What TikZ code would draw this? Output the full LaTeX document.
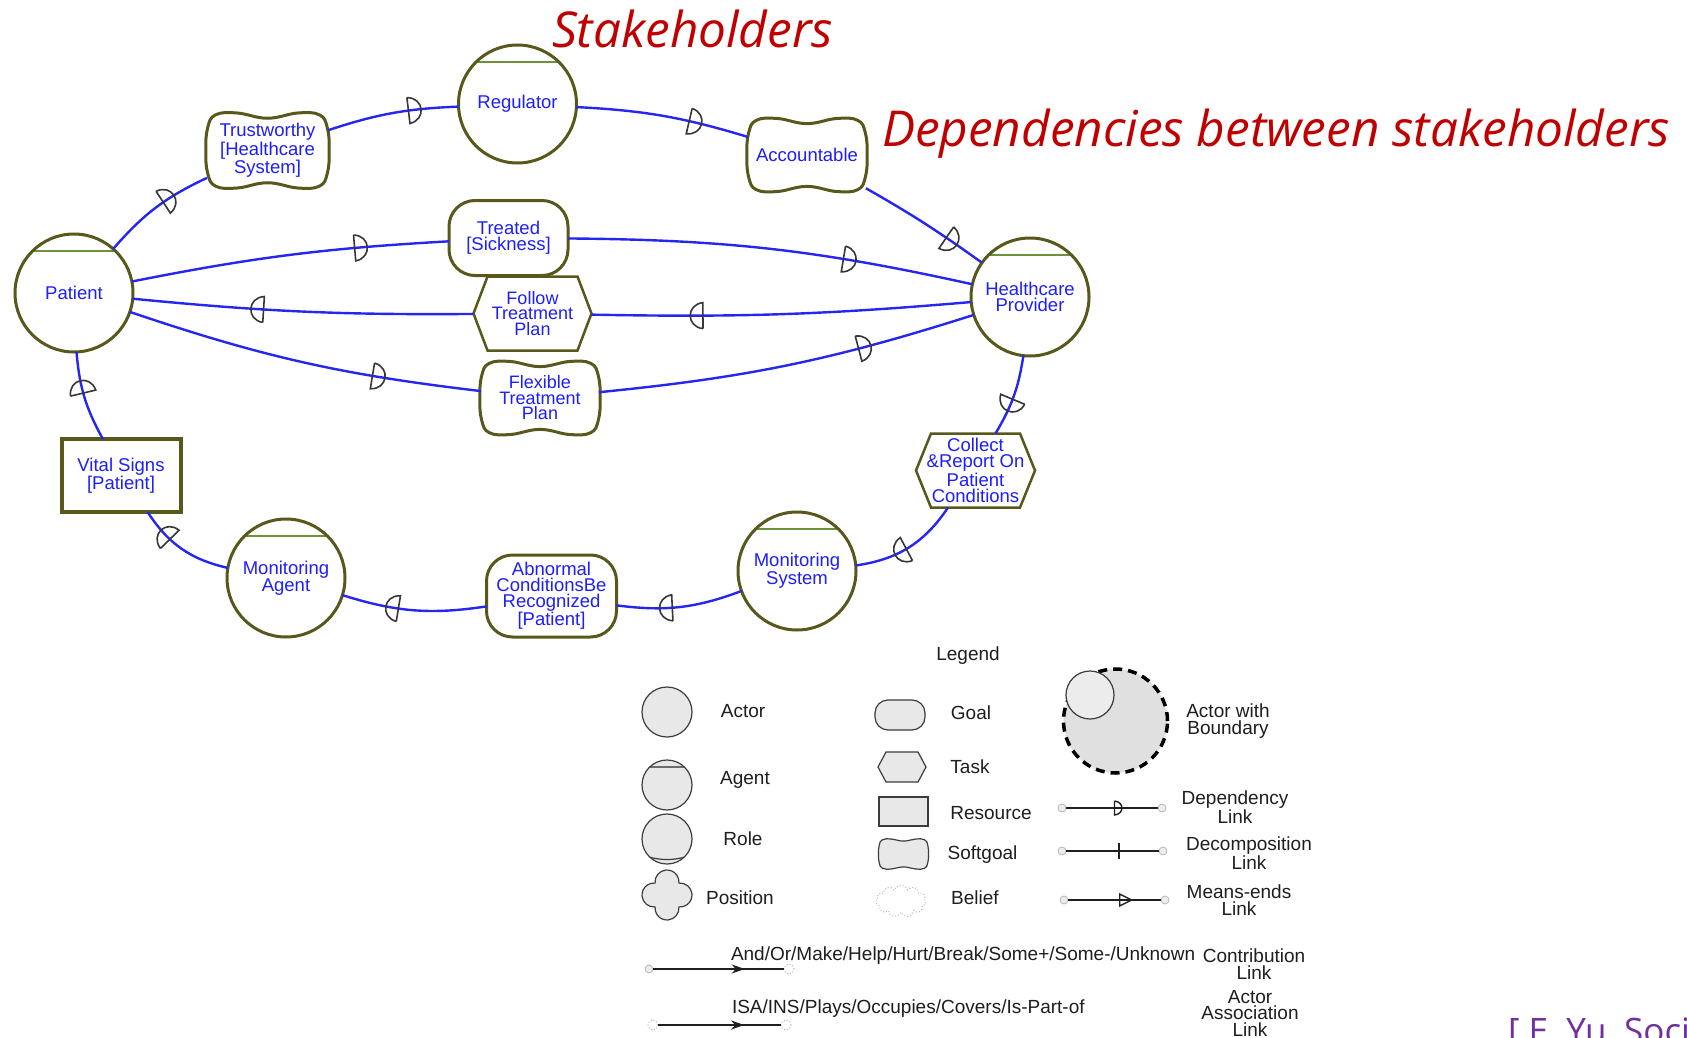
\documentclass[tikz,border=0pt]{standalone}
\usepackage{fontspec}
\setmainfont{Liberation Sans}
\newfontfamily\titlefont{Open Sans}
\usetikzlibrary{decorations.markings, shapes.symbols, arrows.meta}

\definecolor{olivebd}{RGB}{88,88,28}
\definecolor{agentgreen}{RGB}{112,145,60}
\definecolor{linkblue}{RGB}{38,38,240}
\definecolor{textblue}{RGB}{30,30,250}
\definecolor{markgray}{RGB}{55,55,55}
\definecolor{titlered}{RGB}{192,0,0}
\definecolor{citepurple}{RGB}{112,48,160}
\definecolor{legfill}{RGB}{232,232,232}
\definecolor{bndfill}{RGB}{224,224,224}
\definecolor{legline}{RGB}{60,60,60}
\definecolor{legtext}{RGB}{30,30,30}
\definecolor{capgray}{RGB}{185,185,185}
\definecolor{capfill}{RGB}{236,236,236}
\definecolor{beliefgray}{RGB}{190,190,190}

\pgfdeclarelayer{background}
\pgfsetlayers{background,main}

% wavy softgoal outline around a node: #2 node, #3/#4 half width/height
\newcommand\sgoutline[4][sgline]{%
  \draw[#1, shift={(#2.center)}, xscale=#3, yscale=#4]
    plot[smooth cycle, tension=0.7] coordinates {
      (-0.86,0.95) (-0.5,1.0) (0,0.86) (0.5,1.0) (0.86,0.95) (0.99,0.6)
      (1.02,0) (0.99,-0.6) (0.86,-0.95) (0.5,-1.0) (0,-0.86) (-0.5,-1.0)
      (-0.86,-0.95) (-0.99,-0.6) (-1.02,0) (-0.99,0.6)};}
% hexagonal task outline around a node: #3 corner inset
\newcommand\taskoutline[3][taskline]{%
  \draw[#1] (#2.west) -- ([xshift=#3]#2.north west) -- ([xshift=-#3]#2.north east)
    -- (#2.east) -- ([xshift=-#3]#2.south east) -- ([xshift=#3]#2.south west) -- cycle;}

\tikzset{
  every node/.style={inner sep=0pt, outer sep=0pt},
  lbl/.style={text=textblue, font=\fontsize{18.5}{16}\selectfont, align=center},
  actor/.style={lbl, circle, draw=olivebd, line width=3pt, fill=white, minimum size=118pt},
  agent/.style={actor, path picture={\draw[agentgreen, line width=2pt]
      ([yshift=-17pt]path picture bounding box.north west) --
      ([yshift=-17pt]path picture bounding box.north east);}},
  goal/.style={lbl, rectangle, rounded corners=26pt, draw=olivebd, line width=3pt, fill=white},
  softgoal/.style={lbl, rectangle},
  task/.style={lbl, rectangle},
  resource/.style={lbl, rectangle, draw=olivebd, line width=4pt, fill=white},
  sgline/.style={draw=olivebd, line width=3pt, fill=white},
  taskline/.style={draw=olivebd, line width=2.5pt, fill=white},
  dmark/.style={draw=markgray, line width=1.6pt, fill=none},
  dep/.style={draw=linkblue, line width=2.4pt,
    postaction={decorate, decoration={markings, mark=at position #1 with
      {\draw[dmark] (-5,-13) -- (-5,13) .. controls (12,11) and (12,-11) .. (-5,-13);}}}},
  dep/.default=0.65,
  legtxt/.style={text=legtext, font=\fontsize{19}{16.5}\selectfont, align=center},
  legshape/.style={draw=legline, line width=1.2pt, fill=legfill},
  leglink/.style={draw=black!88, line width=2.2pt},
  endcap/.style={circle, draw=capgray, fill=capfill, line width=0.8pt, minimum size=8pt},
  dotcap/.style={circle, draw=capgray, dotted, line width=1pt, minimum size=10pt},
  titletxt/.style={text=titlered, font=\titlefont\itshape\fontsize{49.5}{52}\selectfont, anchor=base west}
}

\begin{document}
\begin{tikzpicture}[x=1pt, y=-1pt]
\useasboundingbox (0,0) rectangle (1687,1038);
\clip (0,0) rectangle (1687,1038);

% headings
\node[titletxt] (head1) at (552,48) {Stakeholders};
\node[titletxt] (head2) at (882,147) {Dependencies between stakeholders};
\node[anchor=base west, text=citepurple, font=\titlefont\fontsize{35}{38}\selectfont] (cite) at (1508,1043) {[ E. Yu, Social};

% actors
\node[agent] (patient) at (74,293) {Patient};
\node[agent] (reg) at (517.5,104) {Regulator};
\node[agent] (hp) at (1030,297) {Healthcare\\Provider};
\node[agent] (ma) at (286,578) {Monitoring\\Agent};
\node[agent] (ms) at (797,571) {Monitoring\\System};

% dependums
\node[softgoal, minimum width=121pt, minimum height=75pt, font=\fontsize{18.5}{18.5}\selectfont] (trust) at (267.5,150.5) {Trustworthy\\{}[Healthcare\\System]};
\node[softgoal, minimum width=118pt, minimum height=73pt] (acc) at (807,155) {Accountable};
\node[goal, minimum width=119pt, minimum height=75pt] (treated) at (508.5,238) {Treated\\{}[Sickness]};
\node[task, minimum width=118pt, minimum height=74pt, font=\fontsize{18}{15.5}\selectfont] (follow) at (532.5,313.5) {Follow\\Treatment\\Plan};
\node[softgoal, minimum width=118pt, minimum height=73pt, font=\fontsize{18}{15.5}\selectfont] (flex) at (540,398) {Flexible\\Treatment\\Plan};
\node[resource, minimum width=119pt, minimum height=73pt, font=\fontsize{18.5}{18}\selectfont] (vital) at (121,475.5) {Vital Signs\\{}[Patient]};
\node[goal, minimum width=130pt, minimum height=82pt] (abn) at (551.5,596) {Abnormal\\ConditionsBe\\Recognized\\{}[Patient]};
\node[task, minimum width=119pt, minimum height=74pt] (collect) at (975.5,470.5) {Collect\\\&Report On\\Patient\\Conditions};

% legend
\node[legtxt] (lgtitle) at (968,656) {Legend};
\node[legshape, circle, minimum size=50pt] (lgactor) at (667,712) {};
\node[legtxt] (lgactortxt) at (743,711) {Actor};
\node[legshape, circle, minimum size=50pt, path picture={\draw[legline!75, line width=2pt]
    ([yshift=-7pt]path picture bounding box.north west) --
    ([yshift=-7pt]path picture bounding box.north east);}] (lgagent) at (667,785) {};
\node[legtxt] (lgagenttxt) at (745,780) {Agent};
\node[legshape, circle, minimum size=50pt, path picture={\draw[legline, line width=1.2pt]
    ([yshift=9pt]path picture bounding box.south west) to[bend right=18]
    ([yshift=9pt]path picture bounding box.south east);}] (lgrole) at (667,839) {};
\node[legtxt] (lgroletxt) at (743,839) {Role};
\coordinate (lgpos) at (667,895);
\draw[legshape, shift={(lgpos)}] (11.95,11.95) arc[start angle=-5, end angle=185, radius=12]
  arc[start angle=85, end angle=275, radius=12] arc[start angle=175, end angle=365, radius=12]
  arc[start angle=265, end angle=455, radius=12] -- cycle;
\node[legtxt] (lgpostxt) at (740,898) {Position};

\node[legshape, rectangle, rounded corners=13pt, minimum width=50pt, minimum height=30pt] (lggoal) at (900,715) {};
\node[legtxt] (lggoaltxt) at (971,713) {Goal};
\node[rectangle, minimum width=48pt, minimum height=30pt] (lgtask) at (902,767) {};
\node[legtxt] (lgtasktxt) at (970,767) {Task};
\node[legshape, rectangle, minimum width=49pt, minimum height=29pt] (lgres) at (903.5,811.5) {};
\node[legtxt] (lgrestxt) at (991,813) {Resource};
\node[rectangle, minimum width=49pt, minimum height=30pt] (lgsoft) at (903.5,854) {};
\node[legtxt] (lgsofttxt) at (982.5,855) {Softgoal};
\node[cloud, cloud puffs=11, aspect=1.6, draw=beliefgray, dotted, line width=1pt, minimum width=50pt, minimum height=32pt] (lgbelief) at (901,901) {};
\node[legtxt] (lgbelieftxt) at (975,898) {Belief};

\node[circle, draw=black, line width=3.5pt, dash pattern=on 9pt off 6pt, fill=bndfill, minimum size=104pt] (lgbound) at (1115.5,721) {};
\node[circle, draw=legline, line width=1.2pt, fill=capfill, minimum size=48pt] (lgbactor) at (1090,695) {};
\node[legtxt] (lgboundtxt) at (1228,721) {Actor with\\Boundary};

\node[endcap] (dl1) at (1062,808) {};
\node[endcap] (dl2) at (1162,808) {};
\node[legtxt] (dltxt) at (1235,807) {Dependency\\Link};
\node[endcap] (cl1) at (1062,851) {};
\node[endcap] (cl2) at (1163,851) {};
\node[legtxt] (cltxt) at (1249,853) {Decomposition\\Link};
\node[endcap] (ml1) at (1064,900) {};
\node[endcap] (ml2) at (1165,900) {};
\node[legtxt] (mltxt) at (1239,900) {Means-ends\\Link};
\node[endcap] (ctl1) at (649,969) {};
\node[dotcap] (ctl2) at (789,969) {};
\node[legtxt, anchor=west] (cttop) at (731,956) {And/Or/Make/Help/Hurt/Break/Some+/Some-/Unknown};
\node[legtxt] (cttxt) at (1254,964) {Contribution\\Link};
\node[dotcap] (al1) at (653,1025) {};
\node[dotcap] (al2) at (786,1025) {};
\node[legtxt, anchor=west] (altop) at (732,1009) {ISA/INS/Plays/Occupies/Covers/Is-Part-of};
\node[legtxt] (altxt) at (1250,1013) {Actor\\Association\\Link};

% page ground, then outlines of softgoals and tasks beneath their labels
\begin{pgfonlayer}{background}
  \fill[white] (0,0) rectangle (1687,1038);
  \sgoutline{trust}{60.5}{37.5}
  \sgoutline{acc}{59}{36.5}
  \sgoutline{flex}{59}{36.5}
  \taskoutline{follow}{14pt}
  \taskoutline{collect}{15pt}
  \sgoutline[legshape]{lgsoft}{24.5}{15}
  \taskoutline[legshape]{lgtask}{8pt}
\end{pgfonlayer}

% dependency links
\draw[dep=0.62] (patient) to[bend left=12] (trust);
\draw[dep=0.66] (trust) to[bend left=8] (reg);
\draw[dep=0.68] (reg) to[bend left=7] (acc);
\draw[dep=0.72] (acc) to[bend left=3] (hp);
\draw[dep=0.72] (patient) to[bend left=4] (treated);
\draw[dep=0.69] (treated) to[bend left=6] (hp);
\draw[dep=0.72] (hp) to[bend left=3] (follow);
\draw[dep=0.63] (follow) to[bend left=3] (patient);
\draw[dep=0.71] (patient) to[bend right=6] (flex);
\draw[dep=0.70] (flex) to[bend right=6] (hp);
\draw[dep=0.6] (hp) to[bend left=11] (collect);
\draw[dep=0.57] (collect) to[bend left=24] (ms);
\draw[dep=0.6] (ms) to[bend left=14] (abn);
\draw[dep=0.64] (abn) to[bend left=13] (ma);
\draw[dep=0.7] (ma) to[bend left=22] (vital);
\draw[dep=0.6] (vital) to[bend left=12] (patient);

% legend links
\draw[leglink, postaction={decorate, decoration={markings, mark=at position 0.57 with
  {\draw[black!88, line width=1.4pt] (-4,-7) -- (-4,7) .. controls (6,6) and (6,-6) .. (-4,-7);}}}] (dl1) -- (dl2);
\draw[leglink, postaction={decorate, decoration={markings, mark=at position 0.57 with
  {\draw[black!88, line width=1.6pt] (0,-8) -- (0,8);}}}] (cl1) -- (cl2);
\draw[leglink, postaction={decorate, decoration={markings, mark=at position 0.62 with
  {\draw[black!88, line width=1.3pt] (-6,-6) -- (6,0) -- (-6,6) -- cycle;}}}] (ml1) -- (ml2);
\draw[leglink, postaction={decorate, decoration={markings, mark=at position 0.7 with
  {\arrow{Stealth[length=13pt, width=9pt]}}}}] (ctl1) -- (ctl2);
\draw[leglink, postaction={decorate, decoration={markings, mark=at position 0.7 with
  {\arrow{Stealth[length=13pt, width=9pt]}}}}] (al1) -- (al2);
\end{tikzpicture}
\end{document}
